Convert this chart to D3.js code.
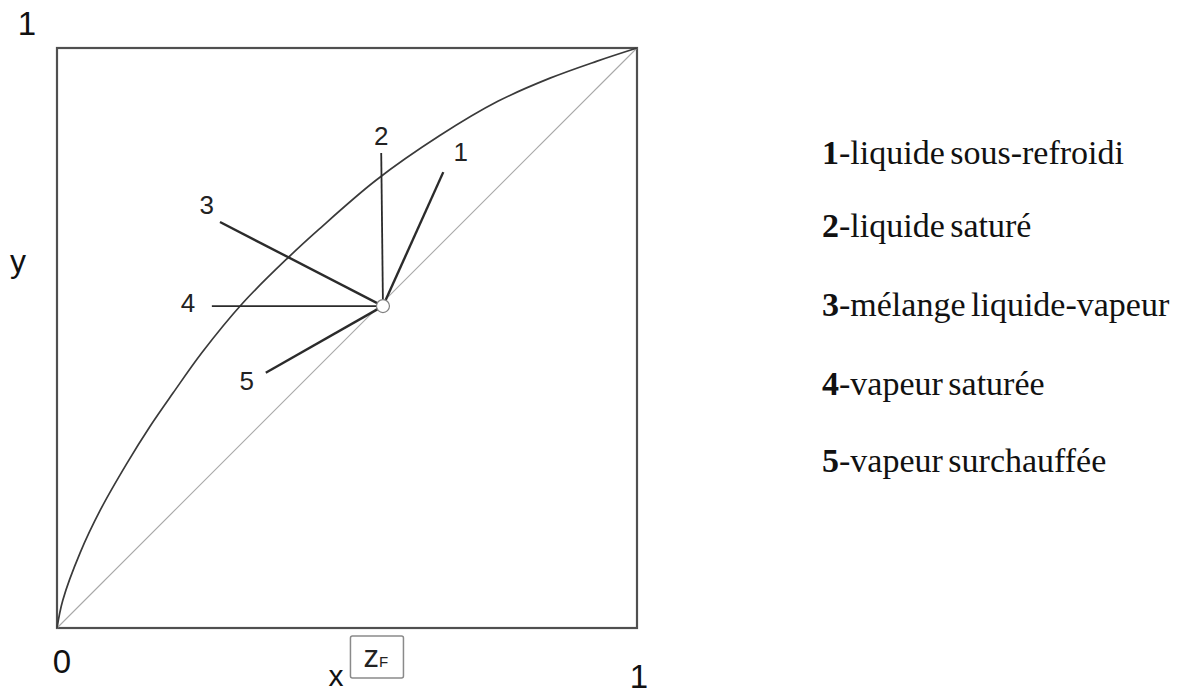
<!DOCTYPE html>
<html>
<head>
<meta charset="utf-8">
<script src="https://cdn.jsdelivr.net/npm/d3@7"></script>
<style>
  html, body { margin: 0; padding: 0; background: #fff; }
  svg { display: block; }
</style>
</head>
<body>
<svg id="chart" width="1182" height="694"></svg>
<script>
// Equilibrium curve y(x) for the binary mixture
const curveX = [0, 0.01, 0.04, 0.075, 0.12, 0.16, 0.20, 0.25, 0.32, 0.40, 0.45, 0.55, 0.66, 0.76, 0.85, 0.93, 1];
const curveY = [0, 0.048, 0.130, 0.204, 0.283, 0.347, 0.405, 0.475, 0.560, 0.640, 0.686, 0.772, 0.849, 0.908, 0.948, 0.977, 1];

// Feed composition and the feed point
const feedX = 0.562;
const feedY = 0.555;

// q-line directions: end point of each line drawn from the feed point
const qIds = [1, 2, 3, 4, 5];
const qEndX = [0.666, 0.559, 0.281, 0.267, 0.360];
const qEndY = [0.786, 0.819, 0.700, 0.555, 0.440];
const qLabelX = [0.696, 0.559, 0.258, 0.226, 0.327];
const qLabelY = [0.806, 0.833, 0.713, 0.545, 0.411];

// Axis tick labels
const tickValues = [0, 1];
const tickLabels = ["0", "1"];

// Legend entries
const legendNums = ["1", "2", "3", "4", "5"];
const legendTexts = ["-liquide sous-refroidi", "-liquide saturé", "-mélange liquide-vapeur", "-vapeur saturée", "-vapeur surchauffée"];

const svg = d3.select("#chart");
const x = d3.scaleLinear().domain([0, 1]).range([57, 637]);
const y = d3.scaleLinear().domain([0, 1]).range([628, 48]);

const sans = "'Liberation Sans', Arial, sans-serif";
const serif = "'Liberation Serif', 'Times New Roman', serif";

// Frame
svg.append("rect")
  .attr("x", x(0)).attr("y", y(1))
  .attr("width", x(1) - x(0)).attr("height", y(0) - y(1))
  .attr("fill", "none").attr("stroke", "#505050").attr("stroke-width", 2.2);

// Diagonal y = x
svg.append("line")
  .attr("x1", x(0)).attr("y1", y(0)).attr("x2", x(1)).attr("y2", y(1))
  .attr("stroke", "#a8a8a8").attr("stroke-width", 1.1);

// Equilibrium curve
const pts = curveX.map((d, i) => [d, curveY[i]]);
svg.append("path")
  .datum(pts)
  .attr("d", d3.line().x(d => x(d[0])).y(d => y(d[1])).curve(d3.curveCatmullRom.alpha(0.5)))
  .attr("fill", "none").attr("stroke", "#3a3a3a").attr("stroke-width", 1.7);

// q-lines
const qWidth = [2.4, 1.8, 2.4, 1.8, 2.4];
qIds.forEach((id, i) => {
  svg.append("line")
    .attr("x1", x(feedX)).attr("y1", y(feedY))
    .attr("x2", x(qEndX[i])).attr("y2", y(qEndY[i]))
    .attr("stroke", "#2b2b2b").attr("stroke-width", qWidth[i]);
  svg.append("text")
    .attr("x", x(qLabelX[i])).attr("y", y(qLabelY[i]))
    .attr("text-anchor", "middle")
    .attr("font-family", sans).attr("font-size", 26)
    .attr("fill", "#222")
    .text(id);
});

// Feed point
svg.append("circle")
  .attr("cx", x(feedX)).attr("cy", y(feedY)).attr("r", 6.5)
  .attr("fill", "#fff").attr("stroke", "#808080").attr("stroke-width", 1.2);

// Tick labels
svg.append("text").attr("x", x(tickValues[0]) + 5).attr("y", 673)
  .attr("text-anchor", "middle").attr("font-family", sans).attr("font-size", 33).attr("fill", "#111")
  .text(tickLabels[0]);
svg.append("text").attr("x", x(tickValues[1]) + 2).attr("y", 688)
  .attr("text-anchor", "middle").attr("font-family", sans).attr("font-size", 33).attr("fill", "#111")
  .text(tickLabels[1]);
svg.append("text").attr("x", 27).attr("y", 35)
  .attr("text-anchor", "middle").attr("font-family", sans).attr("font-size", 33).attr("fill", "#111")
  .text(tickLabels[1]);

// Axis names
svg.append("text").attr("x", 18).attr("y", 272)
  .attr("text-anchor", "middle").attr("font-family", sans).attr("font-size", 32).attr("fill", "#111")
  .text("y");
svg.append("text").attr("x", 336).attr("y", 686)
  .attr("text-anchor", "middle").attr("font-family", sans).attr("font-size", 30).attr("fill", "#111")
  .text("x");

// Feed composition marker z_F below the axis
const zx = x(feedX) - 6;
svg.append("rect")
  .attr("x", zx - 26.5).attr("y", 636).attr("width", 53).attr("height", 42).attr("rx", 2)
  .attr("fill", "#fff").attr("stroke", "#8a8a8a").attr("stroke-width", 1.5);
const zt = svg.append("text")
  .attr("x", zx - 1).attr("y", 667)
  .attr("text-anchor", "middle").attr("font-family", sans).attr("font-size", 31).attr("fill", "#222");
zt.append("tspan").text("z");
zt.append("tspan").attr("font-size", 15).text("F");

// Legend
const legendY = [164, 237, 316, 395, 472];
legendNums.forEach((n, i) => {
  const t = svg.append("text")
    .attr("x", 822).attr("y", legendY[i])
    .attr("font-family", serif).attr("font-size", 34).attr("fill", "#111")
    .attr("word-spacing", -3);
  t.append("tspan").attr("font-weight", "bold").text(n);
  t.append("tspan").text(legendTexts[i]);
});
</script>
</body>
</html>
